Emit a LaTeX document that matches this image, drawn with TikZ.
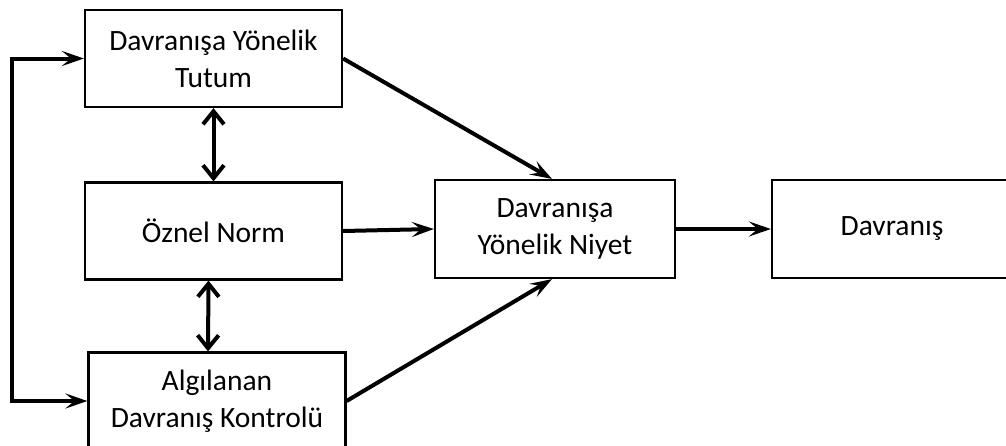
\documentclass[tikz,border=0pt]{standalone}
\usepackage{fontspec}
\setmainfont{Carlito}
\usetikzlibrary{arrows.meta,positioning}

\tikzset{
  kutu/.style={draw,line width=2.2pt,minimum width=257pt,minimum height=97pt,align=center,inner sep=0pt},
  ok/.style={line width=4pt,-{Stealth[length=22pt,width=15pt,inset=9pt]}},
  ciftok/.style={line width=4pt,{Straight Barb[length=13pt,width=21pt,line width=4pt]}-{Straight Barb[length=13pt,width=21pt,line width=4pt]}},
  dongu/.style={line width=4pt,line join=miter,{Stealth[length=22pt,width=15pt,inset=9pt]}-{Stealth[length=22pt,width=15pt,inset=9pt]}}
}

\begin{document}
\begin{tikzpicture}[x=1pt,y=-1pt,font=\fontsize{29.5}{37}\selectfont]

\clip (0,0) rectangle (1006,445);

%tutum
\node[kutu] (tutum) at (213.5,58.5) {Davranışa Yönelik\\Tutum};
%oznel norm
\node[kutu] (norm) at (213.5,231) {Öznel Norm};
%algilanan kontrol
\node[kutu] (kontrol) at (217,401) {Algılanan\\Davranış Kontrolü};
%niyet
\node[kutu,minimum width=240pt,minimum height=98pt] (niyet) at (555,229) {Davranışa\\Yönelik Niyet};
%davranis
\node[kutu,minimum width=240pt,minimum height=98pt] (davranis) at (892,229) {Davranış};

%geri donus hatti
\coordinate (solx) at (12,0);
\draw[dongu] (tutum.west) -- (tutum.west -| solx) -- (kontrol.west -| solx) -- (kontrol.west);

%karsilikli oklar
\draw[ciftok] (tutum.south) -- (norm.north);
\draw[ciftok] ([xshift=-5pt]norm.south) -- ([xshift=-9pt]kontrol.north);

%niyete giden oklar
\draw[ok] (tutum.east) -- ([xshift=-3pt]niyet.north);
\draw[ok] (norm.east) -- (niyet.west);
\draw[ok] (kontrol.east) -- ([xshift=-3pt]niyet.south);
%davranisa giden ok
\draw[ok] (niyet.east) -- (davranis.west);

\end{tikzpicture}
\end{document}
